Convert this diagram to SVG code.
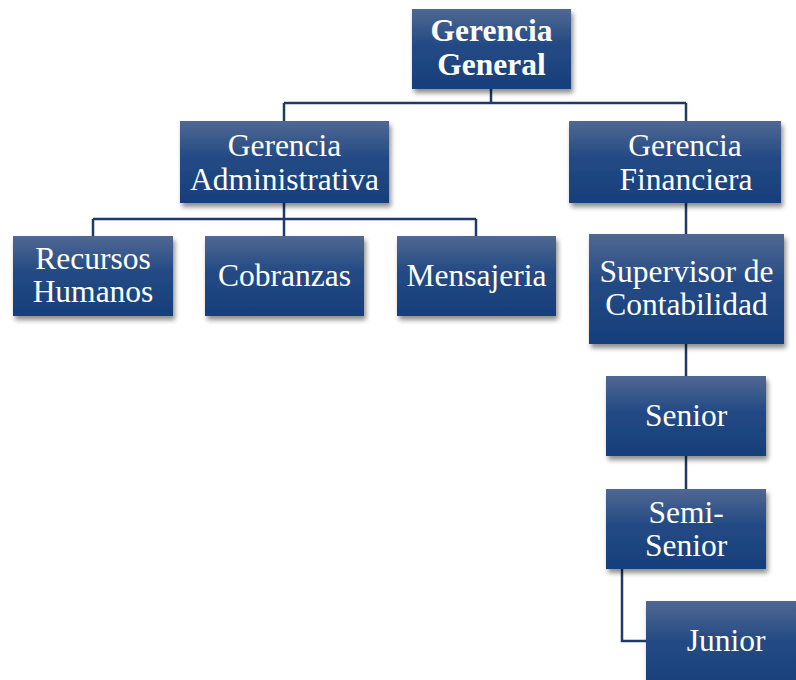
<svg xmlns="http://www.w3.org/2000/svg" width="796" height="680" viewBox="0 0 796 680">
<defs>
<linearGradient id="g" x1="0" y1="0" x2="0" y2="1">
<stop offset="0" stop-color="#506893"/>
<stop offset="0.45" stop-color="#234a84"/>
<stop offset="1" stop-color="#173f7b"/>
</linearGradient>
<filter id="sh" x="-10%" y="-10%" width="125%" height="130%">
<feGaussianBlur in="SourceAlpha" stdDeviation="2.5"/>
<feOffset dx="2" dy="4" result="b"/>
<feComponentTransfer><feFuncA type="linear" slope="0.45"/></feComponentTransfer>
<feMerge><feMergeNode/><feMergeNode in="SourceGraphic"/></feMerge>
</filter>
</defs>
<style>
.box{fill:url(#g);filter:url(#sh)}
.t{font-size:31.5px;fill:#fff;text-anchor:middle}
.b{font-weight:bold}
.c{fill:none;stroke:#1f3a68;stroke-width:2.5}
</style>
<rect width="796" height="680" fill="#fff"/>
<g id="connectors">
<path class="c" d="M491 89V103M284 103H686M284 103V121M686 103V121"/>
<path class="c" d="M284 203V219M93 219H476M93 219V236M284 219V236M476 219V236"/>
<path class="c" d="M686 203V234M686 344V376M686 456V489"/>
<path class="c" d="M622 569V641H646"/>
</g>
<g font-family="Liberation Serif, Times New Roman, DejaVu Serif, serif">
<g id="gerencia-general"><rect class="box" x="412" y="9" width="159" height="80"/><text class="t b" x="491.5" y="41">Gerencia</text><text class="t b" x="491.5" y="75">General</text></g>
<g id="gerencia-administrativa"><rect class="box" x="180" y="121" width="209" height="82"/><text class="t" x="284.5" y="156">Gerencia</text><text class="t" x="284.5" y="190">Administrativa</text></g>
<g id="gerencia-financiera"><rect class="box" x="569" y="121" width="212" height="82"/><text class="t" x="685" y="156">Gerencia</text><text class="t" x="686" y="190">Financiera</text></g>
<g id="recursos-humanos"><rect class="box" x="13" y="236" width="160" height="80"/><text class="t" x="93" y="269">Recursos</text><text class="t" x="93" y="302">Humanos</text></g>
<g id="cobranzas"><rect class="box" x="205" y="236" width="159" height="80"/><text class="t" x="284.5" y="286">Cobranzas</text></g>
<g id="mensajeria"><rect class="box" x="397" y="236" width="159" height="80"/><text class="t" x="476.5" y="286">Mensajeria</text></g>
<g id="supervisor"><rect class="box" x="589" y="234" width="195" height="110"/><text class="t" x="686.5" y="282">Supervisor de</text><text class="t" x="686.5" y="315">Contabilidad</text></g>
<g id="senior"><rect class="box" x="606" y="376" width="160" height="80"/><text class="t" x="686" y="426">Senior</text></g>
<g id="semi-senior"><rect class="box" x="606" y="489" width="160" height="80"/><text class="t" x="686" y="523">Semi-</text><text class="t" x="686" y="556">Senior</text></g>
<g id="junior"><rect class="box" x="646" y="601" width="160" height="90"/><text class="t" x="726" y="651">Junior</text></g>
</g>
</svg>
